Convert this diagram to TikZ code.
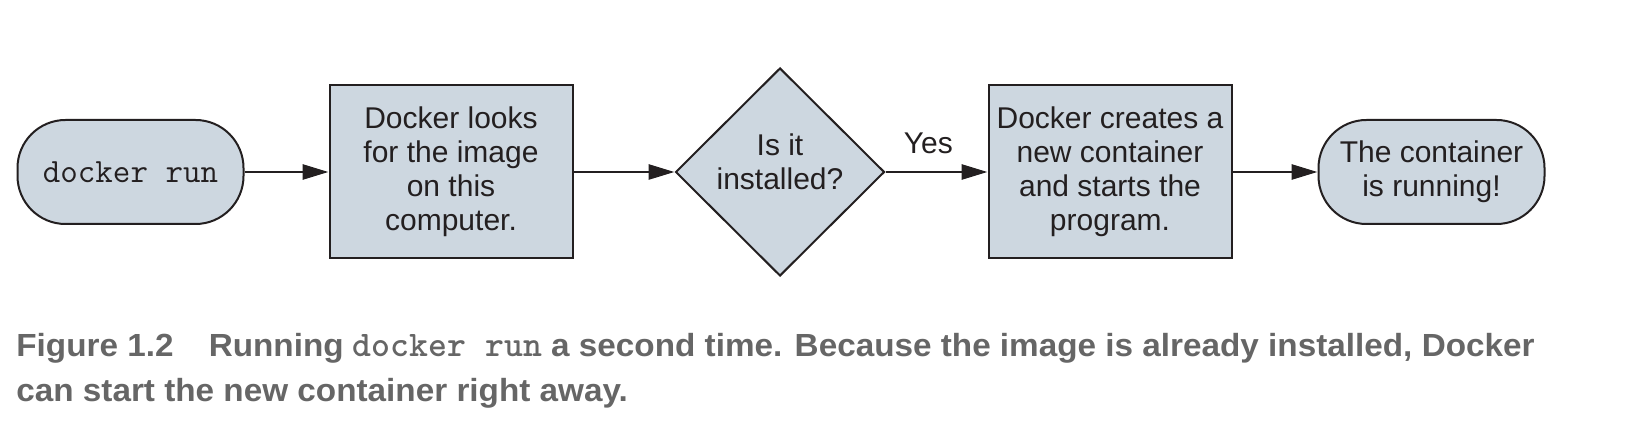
\documentclass[tikz,border=0pt]{standalone}
\usepackage{fontspec}
\setmainfont{Liberation Sans}
\newfontfamily\capfont{Liberation Sans}[FakeStretch=1.04]
\usepackage{tikz}
\usetikzlibrary{shapes.geometric,arrows.meta}
\definecolor{boxfill}{RGB}{205,215,224}
\definecolor{ink}{RGB}{35,31,32}
\definecolor{capgray}{RGB}{102,102,102}

\begin{document}
\begin{tikzpicture}[x=0.5pt, y=-0.5pt,
    every node/.style={font=\fontsize{15}{17}\selectfont, text=ink},
    term/.style={draw=ink, line width=1pt, fill=boxfill, rounded corners=24pt,
      minimum width=113pt, minimum height=52pt, inner sep=0pt},
    proc/.style={draw=ink, line width=1pt, fill=boxfill, minimum width=121.5pt,
      minimum height=86.5pt, inner sep=0pt, align=center},
    decide/.style={diamond, draw=ink, line width=1pt, fill=boxfill, minimum width=104.5pt,
      minimum height=104pt, inner sep=0pt, align=center},
    flow/.style={draw=ink, line width=1.4pt, -{Triangle[length=13pt,width=7.5pt]}}]
         \useasboundingbox (0,0) rectangle (1626,442);
         \node[term, font=\ttfamily\fontsize{17}{17}\selectfont] (RUN) at (130.5,172) {docker run};
         \node[proc] (LOOK) at (451,172) {Docker looks\\for the image\\on this\\computer.};
         \node[decide] (CHK) at (780,172) {Is it\\installed?\rule[-10pt]{0pt}{10pt}};
         \node[proc] (MAKE) at (1110,172) {Docker creates a\\new container\\and starts the\\program.};
         \node[term, align=center] (DONE) at (1431.5,172) {The container\\is running!};
         \draw[flow] (RUN) -- (LOOK);
         \draw[flow] (LOOK) -- (CHK);
         \draw[flow] (CHK) -- node[pos=0.42, above=5pt] {Yes} (MAKE);
         \draw[flow] (MAKE) -- (DONE);
         % caption under the flow
         \node[anchor=north west, inner sep=0pt, align=left, text=capgray,
           font=\capfont\bfseries\fontsize{16}{22.5}\selectfont] (CAP) at (16,333)
           {Figure 1.2\hspace{1.1em}Running {\ttfamily\fontsize{18}{22.5}\selectfont docker run} a second time. Because the image is already installed, Docker\\can start the new container right away.};
 \end{tikzpicture}
\end{document}
